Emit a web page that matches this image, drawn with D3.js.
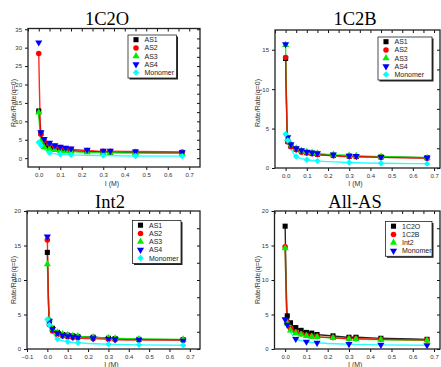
<!DOCTYPE html>
<html>
<head>
<meta charset="utf-8">
<script src="https://cdn.jsdelivr.net/npm/d3@7"></script>
<style>
  body { margin: 0; background: #fff; }
  svg { display: block; }
</style>
</head>
<body>
<div id="chart"></div>
<script>
/* ionic strength values (M) */
const xs = [0, 0.01, 0.025, 0.05, 0.075, 0.1, 0.125, 0.15, 0.225, 0.3, 0.333, 0.45, 0.667];
const xsMono = [0, 0.01, 0.05, 0.1, 0.15, 0.3, 0.45, 0.667];

/* monomer, shared by every panel */
const monomer = [4.3, 3.5, 1.45, 1.05, 0.9, 0.7, 0.6, 0.55];

/* 1C2O */
const c2oAS1 = [12.8, 6.8, 3.6, 2.9, 2.6, 2.3, 2.1, 2.0, 1.8, 1.7, 1.6, 1.5, 1.4];
const c2oAS2 = [28.4, 6.5, 4.8, 3.8, 3.2, 2.9, 2.6, 2.4, 2.1, 1.9, 1.9, 1.8, 1.7];
const c2oAS3 = [12.4, 4.5, 3.0, 2.5, 2.2, 2.0, 1.9, 1.8, 1.6, 1.5, 1.5, 1.4, 1.3];
const c2oAS4 = [31.4, 7.0, 5.2, 4.2, 3.5, 3.1, 2.8, 2.6, 2.3, 2.0, 2.0, 1.8, 1.6];

/* 1C2B */
const c2bAS1 = [13.9, 3.4, 2.8, 2.4, 2.1, 1.95, 1.85, 1.75, 1.6, 1.5, 1.45, 1.4, 1.3];
const c2bAS2 = [14.0, 3.3, 2.7, 2.3, 2.0, 1.9, 1.8, 1.7, 1.55, 1.45, 1.45, 1.35, 1.25];
const c2bAS3 = [15.6, 3.7, 3.0, 2.5, 2.2, 2.05, 1.95, 1.85, 1.7, 1.6, 1.55, 1.45, 1.3];
const c2bAS4 = [15.7, 3.9, 3.0, 2.5, 2.25, 2.05, 1.95, 1.85, 1.7, 1.55, 1.5, 1.4, 1.3];

/* Int2 */
const intAS1 = [14.0, 3.8, 3.0, 2.4, 2.1, 2.0, 1.9, 1.8, 1.7, 1.55, 1.5, 1.4, 1.35];
const intAS2 = [15.8, 3.5, 2.6, 2.1, 1.9, 1.75, 1.65, 1.6, 1.5, 1.4, 1.35, 1.3, 1.3];
const intAS3 = [12.3, 4.3, 2.9, 2.4, 2.15, 2.0, 1.9, 1.85, 1.7, 1.6, 1.55, 1.45, 1.4];
const intAS4 = [16.3, 4.1, 2.9, 2.3, 2.0, 1.85, 1.75, 1.65, 1.55, 1.45, 1.4, 1.3, 1.2];

/* All-AS */
const all1C2O = [17.8, 4.8, 3.8, 3.1, 2.7, 2.4, 2.3, 2.1, 1.9, 1.7, 1.7, 1.55, 1.4];
const all1C2B = [14.8, 3.9, 3.0, 2.5, 2.2, 2.0, 1.9, 1.8, 1.65, 1.5, 1.5, 1.4, 1.3];
const allInt2 = [14.6, 3.7, 2.7, 2.3, 2.1, 1.9, 1.8, 1.75, 1.6, 1.5, 1.45, 1.35, 1.25];

const asNames = ["AS1", "AS2", "AS3", "AS4", "Monomer"];
const allNames = ["1C2O", "1C2B", "Int2", "Monomer"];

const width = 441, height = 367;
const svg = d3.select("#chart").append("svg")
    .attr("width", width)
    .attr("height", height);

const sym = {
    square: d3.symbol().type(d3.symbolSquare).size(26),
    circle: d3.symbol().type(d3.symbolCircle).size(24),
    up: d3.symbol().type(d3.symbolTriangle).size(22),
    down: d3.symbol().type(d3.symbolTriangle).size(22),
    diamond: d3.symbol().type(d3.symbolDiamond2).size(26)
};

// build series list for an AS panel
const asSeries = (a1, a2, a3, a4) => [
    {name: asNames[0], x: xs, y: a1, color: "#000000", shape: "square", line: "#000000"},
    {name: asNames[1], x: xs, y: a2, color: "#ff0000", shape: "circle", line: "#ff0000"},
    {name: asNames[2], x: xs, y: a3, color: "#00ee00", shape: "up", line: "#00ee00"},
    {name: asNames[3], x: xs, y: a4, color: "#0000ff", shape: "down", line: null},
    {name: asNames[4], x: xsMono, y: monomer, color: "#00ffff", shape: "diamond", line: "#00ffff"}
];

const panels = [
    {title: "1C2O", tx: 107, ty: 25, box: [28, 200, 28.5, 167], xd: [-0.05, 0.75], yd: [-2.4, 35.2],
     yt: d3.range(0, 36, 5), xt: d3.range(0, 0.71, 0.1), lab: [128, 35], xlab: 186, ylab: [15.5, 103],
     series: asSeries(c2oAS1, c2oAS2, c2oAS3, c2oAS4)},
    {title: "1C2B", tx: 355, ty: 25, box: [275, 440, 30, 168], xd: [-0.05, 0.728], yd: [0, 17.5],
     yt: d3.range(0, 16, 5), xt: d3.range(0, 0.71, 0.1), lab: [378, 37], xlab: 186, ylab: [260, 103],
     series: asSeries(c2bAS1, c2bAS2, c2bAS3, c2bAS4)},
    {title: "Int2", tx: 110, ty: 208, box: [27, 200, 211, 349], xd: [-0.1, 0.75], yd: [0, 20],
     yt: d3.range(0, 21, 5), xt: d3.range(-0.1, 0.71, 0.1), lab: [132.5, 220.5], xlab: 367, ylab: [15.5, 280],
     series: asSeries(intAS1, intAS2, intAS3, intAS4)},
    {title: "All-AS", tx: 355, ty: 208, box: [274.5, 440, 211, 349], xd: [-0.05, 0.728], yd: [0, 20],
     yt: d3.range(0, 21, 5), xt: d3.range(0, 0.71, 0.1), lab: [385.5, 221.5], xlab: 367, ylab: [260, 280],
     series: [
        {name: allNames[0], x: xs, y: all1C2O, color: "#000000", shape: "square", line: "#000000"},
        {name: allNames[1], x: xs, y: all1C2B, color: "#ff0000", shape: "circle", line: "#ff0000"},
        {name: allNames[2], x: xs, y: allInt2, color: "#00ee00", shape: "up", line: "#00ee00"},
        {name: allNames[3], x: xsMono, y: monomer, color: "#0000ff", shape: "down", line: "#00ffff"}
     ]}
];

const fmt = d3.format(".1f");

panels.forEach((p, i) => {
    const [l, r, t, b] = p.box;
    const x = d3.scaleLinear().domain(p.xd).range([l, r]);
    const y = d3.scaleLinear().domain(p.yd).range([b, t]);
    const g = svg.append("g");

    // title
    g.append("text")
        .attr("x", p.tx).attr("y", p.ty)
        .attr("text-anchor", "middle")
        .style("font", "18.5px 'Liberation Serif', 'Times New Roman', serif")
        .text(p.title);

    // clip for fit lines
    g.append("clipPath").attr("id", "clip" + i)
        .append("rect").attr("x", l).attr("y", t).attr("width", r - l).attr("height", b - t);

    // axes: outer ticks left/bottom, inner ticks top/right
    const tickFont = g => g.selectAll("text")
        .style("font-size", "6px").style("font-family", "Arial, 'Liberation Sans', sans-serif").attr("fill", "#333");

    g.append("g").attr("transform", `translate(0,${b})`)
        .call(d3.axisBottom(x).tickValues(p.xt).tickFormat(d => fmt(d)).tickSize(3).tickPadding(3))
        .call(a => a.select(".domain").remove())
        .call(tickFont);
    g.append("g").attr("transform", `translate(${l},0)`)
        .call(d3.axisLeft(y).tickValues(p.yt).tickSize(3).tickPadding(3))
        .call(a => a.select(".domain").remove())
        .call(tickFont);
    g.append("g").attr("transform", `translate(0,${t})`)
        .call(d3.axisTop(x).tickValues(d3.range(p.xd[0] < -0.06 ? -0.1 : -0.05, p.xd[1], 0.05)).tickSize(-3).tickFormat(""))
        .call(a => a.select(".domain").remove());
    g.append("g").attr("transform", `translate(${r},0)`)
        .call(d3.axisRight(y).tickValues(d3.range(0, p.yd[1], (p.yt[1] - p.yt[0]) / 2)).tickSize(-3).tickFormat(""))
        .call(a => a.select(".domain").remove());
    g.selectAll(".tick line").attr("stroke", "#111").attr("stroke-width", 1);

    // frame
    g.append("rect")
        .attr("x", l).attr("y", t).attr("width", r - l).attr("height", b - t)
        .attr("fill", "none").attr("stroke", "#222").attr("stroke-width", 1.3);

    // axis titles
    g.append("text")
        .attr("transform", `translate(${p.ylab[0]},${p.ylab[1]}) rotate(-90)`)
        .attr("text-anchor", "middle")
        .style("font", "7px Arial, 'Liberation Sans', sans-serif").attr("fill", "#333")
        .text("Rate/Rate(q=0)");
    g.append("text")
        .attr("x", (l + r) / 2 - 2).attr("y", p.xlab)
        .attr("text-anchor", "middle")
        .style("font", "7px Arial, 'Liberation Sans', sans-serif").attr("fill", "#333")
        .text("I (M)");

    // fit lines
    const line = d3.line().x(d => x(d[0])).y(d => y(d[1])).curve(d3.curveMonotoneX);
    const order = [0, 2, 1, 3, 4].filter(k => k < p.series.length);
    const lines = g.append("g").attr("clip-path", `url(#clip${i})`);
    order.forEach(k => {
        const s = p.series[k];
        if (!s.line) return;
        lines.append("path")
            .datum(d3.zip(s.x, s.y))
            .attr("d", line)
            .attr("fill", "none")
            .attr("stroke", s.line)
            .attr("stroke-width", 1.4)
            .attr("stroke-opacity", 0.85);
    });

    // markers
    p.series.forEach(s => {
        g.append("g").selectAll("path")
            .data(d3.zip(s.x, s.y))
            .join("path")
            .attr("d", sym[s.shape])
            .attr("transform", d => `translate(${x(d[0])},${y(d[1])})${s.shape === "down" ? " rotate(180)" : ""}`)
            .attr("fill", s.color);
    });

    // legend
    const n = p.series.length;
    const lw = i === 0 || i === 2 ? 48.5 : (i === 1 ? 54 : 46.5);
    const lh = n * 8.2 + 2;
    const lg = g.append("g").attr("transform", `translate(${p.lab[0]},${p.lab[1]})`);
    lg.append("rect").attr("x", 1.5).attr("y", 1.5).attr("width", lw).attr("height", lh).attr("fill", "#222");
    lg.append("rect").attr("width", lw).attr("height", lh).attr("fill", "#fff").attr("stroke", "#222").attr("stroke-width", 0.8);
    p.series.forEach((s, k) => {
        const cy = 4.7 + k * 8.2;
        lg.append("path")
            .attr("d", sym[s.shape])
            .attr("transform", `translate(8,${cy})${s.shape === "down" ? " rotate(180)" : ""}`)
            .attr("fill", s.color);
        lg.append("text")
            .attr("x", 16.5).attr("y", cy + 2.5)
            .style("font", "7px Arial, 'Liberation Sans', sans-serif").attr("fill", "#222")
            .text(s.name);
    });
});
</script>
</body>
</html>
